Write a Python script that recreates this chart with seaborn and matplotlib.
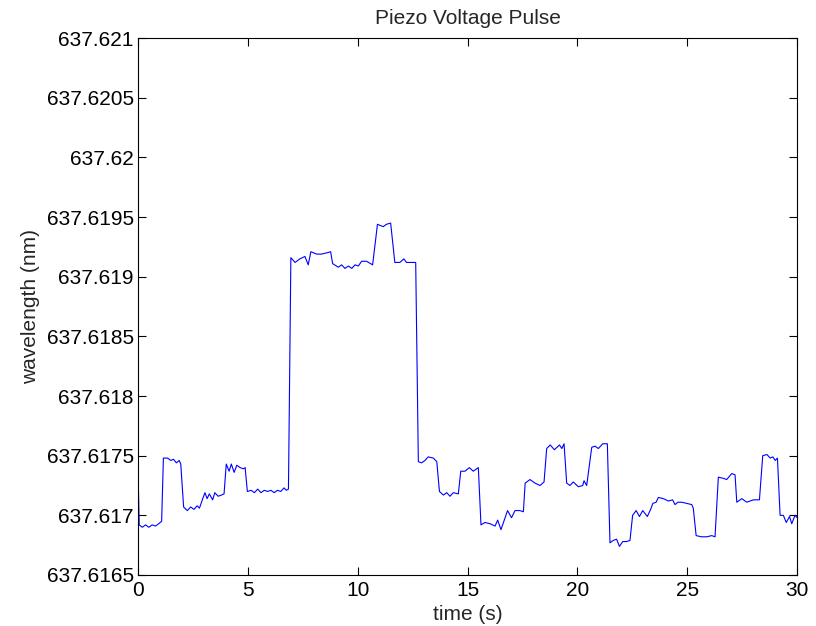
import matplotlib
matplotlib.use("Agg")
import matplotlib.pyplot as plt
import seaborn as sns
import pandas as pd
from matplotlib.ticker import FixedLocator, FixedFormatter

time_s = [
    0.00, 0.06, 0.20, 0.35, 0.50, 0.65, 0.80, 0.95, 1.08, 1.16, 1.35, 1.50, 1.62, 1.75, 1.88, 1.95,
    2.08, 2.25, 2.40, 2.55, 2.70, 2.80, 2.95, 3.05, 3.15, 3.25, 3.40, 3.50, 3.65, 3.80, 3.92,
    4.02, 4.15, 4.25, 4.38, 4.50, 4.65, 4.80, 4.88, 4.98, 5.15, 5.30, 5.45, 5.60, 5.75, 5.90,
    6.05, 6.20, 6.35, 6.50, 6.65, 6.75, 6.85,
    6.96, 7.15, 7.37, 7.60, 7.75, 7.87, 8.13, 8.35, 8.58, 8.77, 8.86, 9.12, 9.27, 9.42, 9.58,
    9.73, 9.88, 10.03, 10.18, 10.40, 10.68, 10.90, 11.16, 11.31, 11.50, 11.69, 11.92, 12.10,
    12.22, 12.64,
    12.76, 12.91, 13.06, 13.21, 13.44, 13.60, 13.72, 13.90, 14.05, 14.20, 14.35, 14.58, 14.69,
    14.88, 15.08, 15.26, 15.49, 15.61, 15.79, 16.02, 16.25, 16.37, 16.52, 16.67, 16.82, 17.00,
    17.16, 17.38, 17.54, 17.62, 17.84, 18.07, 18.30, 18.48, 18.60, 18.76, 18.95, 19.18, 19.29,
    19.39, 19.51, 19.66, 19.81, 20.04, 20.24, 20.30, 20.42, 20.65,
    20.80, 20.95, 21.15, 21.36, 21.48, 21.63, 21.78, 21.91, 22.06, 22.24, 22.39, 22.51, 22.67,
    22.82, 22.97, 23.18, 23.33, 23.43, 23.58, 23.68, 23.91, 24.14, 24.33, 24.44, 24.57, 24.75,
    24.97, 25.20, 25.27, 25.40, 25.65, 25.88, 26.11, 26.26, 26.41, 26.64, 26.79, 27.02, 27.17,
    27.25, 27.48, 27.70, 28.01, 28.28, 28.43, 28.62, 28.77, 28.89, 29.00, 29.10, 29.22, 29.37,
    29.50, 29.65, 29.75, 29.90, 30.00,
]

wavelength_nm = [
    637.61742, 637.61692, 637.61690, 637.61692, 637.61690, 637.61692, 637.61691, 637.61693,
    637.61695, 637.61748, 637.61748, 637.61746, 637.61747, 637.61744, 637.61746, 637.61743,
    637.61707, 637.61704, 637.61707, 637.61705, 637.61708, 637.61706, 637.61714, 637.61719,
    637.61714, 637.61718, 637.61713, 637.61719, 637.61716, 637.61717, 637.61718,
    637.61743, 637.61737, 637.61743, 637.61736, 637.61742, 637.61740, 637.61739, 637.61740,
    637.61720, 637.61721, 637.61719, 637.61722, 637.61719, 637.61721, 637.61720,
    637.61721, 637.61719, 637.61721, 637.61720, 637.61723, 637.61721, 637.61722,
    637.61916, 637.61912, 637.61915, 637.61917, 637.61910, 637.61921, 637.61919, 637.61919,
    637.61920, 637.61921, 637.61911, 637.61908, 637.61910, 637.61907, 637.61909,
    637.61907, 637.61910, 637.61909, 637.61913, 637.61913, 637.61910, 637.61944, 637.61942,
    637.61944, 637.61945, 637.61912, 637.61912, 637.61915,
    637.61912, 637.61912,
    637.61745, 637.61744, 637.61746, 637.61749, 637.61748, 637.61745, 637.61720, 637.61717,
    637.61719, 637.61716, 637.61719, 637.61718, 637.61737,
    637.61737, 637.61740, 637.61737, 637.61740, 637.61692, 637.61694, 637.61693, 637.61691,
    637.61696, 637.61688, 637.61696, 637.61704, 637.61698,
    637.61704, 637.61704, 637.61703, 637.61727, 637.61730, 637.61727, 637.61725, 637.61728,
    637.61756, 637.61759, 637.61755, 637.61759, 637.61756,
    637.61760, 637.61727, 637.61725, 637.61728, 637.61724, 637.61725, 637.61729, 637.61725,
    637.61757,
    637.61758, 637.61756, 637.61760, 637.61760, 637.61677, 637.61679, 637.61680, 637.61674,
    637.61678, 637.61678, 637.61679, 637.61700, 637.61704,
    637.61699, 637.61704, 637.61699, 637.61705, 637.61710, 637.61711, 637.61715, 637.61714,
    637.61712, 637.61713, 637.61709, 637.61711, 637.61711,
    637.61710, 637.61709, 637.61706, 637.61683, 637.61682, 637.61682, 637.61683, 637.61682,
    637.61732, 637.61731, 637.61730, 637.61735, 637.61734,
    637.61711, 637.61714, 637.61711, 637.61713, 637.61713, 637.61750, 637.61751, 637.61748,
    637.61749, 637.61746, 637.61748, 637.61700, 637.61700,
    637.61694, 637.61699, 637.61693, 637.61700, 637.61698,
]

x_ticks = [0, 5, 10, 15, 20, 25, 30]
y_ticks = [637.6165, 637.617, 637.6175, 637.618, 637.6185, 637.619, 637.6195,
           637.62, 637.6205, 637.621]
y_tick_labels = ["637.6165", "637.617", "637.6175", "637.618", "637.6185", "637.619",
                 "637.6195", "637.62", "637.6205", "637.621"]

sns.set_style("white")
plt.rcParams['font.family'] = ['Liberation Sans', 'DejaVu Sans']

df = pd.DataFrame({"time (s)": time_s, "wavelength (nm)": wavelength_nm})

fig = plt.figure(figsize=(8.16, 6.26), dpi=100)
ax = fig.add_axes([0.169, 0.0815, 0.808, 0.8575])
sns.lineplot(data=df, x="time (s)", y="wavelength (nm)", color="#0000ff",
             linewidth=0.8, ax=ax, sort=False)

ax.set_xlim(0, 30)
ax.set_ylim(637.6165, 637.621)
ax.xaxis.set_major_locator(FixedLocator(x_ticks))
ax.set_xticklabels([str(t) for t in x_ticks])
ax.yaxis.set_major_locator(FixedLocator(y_ticks))
ax.yaxis.set_major_formatter(FixedFormatter(y_tick_labels))

for s in ax.spines.values():
    s.set_visible(True)
    s.set_color("black")
    s.set_linewidth(0.8)

ax.tick_params(axis="both", which="major", direction="in", length=5.5, width=0.8,
               top=True, right=True, bottom=True, left=True, labelsize=15, colors="black")
ax.tick_params(axis="x", pad=4)
ax.tick_params(axis="y", pad=3)
ax.set_xlabel("time (s)", fontsize=15, labelpad=4)
ax.set_ylabel("wavelength (nm)", fontsize=15, labelpad=5)
ax.set_title("Piezo Voltage Pulse", fontsize=15, pad=10)

fig.savefig("out.png", dpi=100)
